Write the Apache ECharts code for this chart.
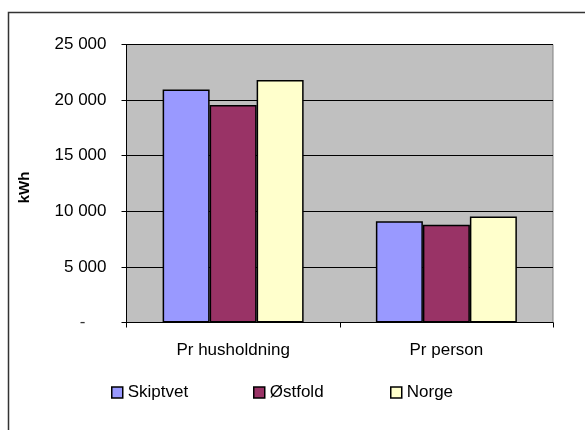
<!DOCTYPE html>
<html>
<head>
<meta charset="utf-8">
<script src="https://cdn.jsdelivr.net/npm/echarts@6/dist/echarts.min.js"></script>
<style>
  html, body { margin: 0; padding: 0; background: #fff; }
  #chart { width: 585px; height: 430px; }
</style>
</head>
<body>
<div id="chart"></div>
<script>
// Strømforbruk i kWh
const categories = ['Pr husholdning', 'Pr person'];
const skiptvet = [20950, 9100];
const ostfold = [19570, 8800];
const norge = [21800, 9540];
const yTicks = [0, 5000, 10000, 15000, 20000, 25000];

const FONT = '"Liberation Sans", Arial, sans-serif';

function fmt(v) {
  if (v === 0) return '{z|-}';
  return String(v).replace(/\B(?=(\d{3})+(?!\d))/g, ' ');
}

const chart = echarts.init(document.getElementById('chart'));

function legendFor(name, left) {
  return {
    data: [name],
    left: left,
    top: 379,
    itemWidth: 11,
    itemHeight: 11,
    itemGap: 0,
    icon: 'rect',
    textStyle: { fontFamily: FONT, fontSize: 17, color: '#000' },
    itemStyle: { borderColor: '#000', borderWidth: 1.5 }
  };
}

function barSeries(name, data, color) {
  return {
    name: name,
    type: 'bar',
    data: data,
    barWidth: 47,
    barGap: '0%',
    itemStyle: { color: color, borderColor: '#000', borderWidth: 1.5 },
    emphasis: { disabled: true }
  };
}

chart.setOption({
  animation: false,
  backgroundColor: '#fff',
  textStyle: { fontFamily: FONT },
  grid: {
    left: 126.5,
    right: 32,
    top: 44.5,
    bottom: 107.5,
    show: true,
    backgroundColor: '#C0C0C0',
    borderColor: '#808080',
    borderWidth: 1
  },
  legend: [
    legendFor('Skiptvet', 106),
    legendFor('Østfold', 248),
    legendFor('Norge', 385)
  ],
  xAxis: {
    type: 'category',
    data: categories,
    boundaryGap: true,
    axisLine: { show: true, lineStyle: { color: '#000', width: 1 } },
    axisTick: { show: true, inside: false, length: 5, lineStyle: { color: '#000' } },
    axisLabel: { fontFamily: FONT, fontSize: 17, color: '#000', margin: 19 },
    splitLine: { show: false }
  },
  yAxis: {
    type: 'value',
    min: yTicks[0],
    max: yTicks[yTicks.length - 1],
    interval: 5000,
    axisLine: { show: true, lineStyle: { color: '#000', width: 1 } },
    axisTick: { show: true, inside: false, length: 5, lineStyle: { color: '#000' } },
    axisLabel: {
      fontFamily: FONT,
      fontSize: 17,
      color: '#000',
      margin: 20,
      formatter: fmt,
      rich: { z: { fontFamily: FONT, fontSize: 17, color: '#333', padding: [0, 21, 0, 0] } }
    },
    splitLine: { show: true, lineStyle: { color: '#000', width: 1 } }
  },
  graphic: [
    {
      type: 'rect',
      shape: { x: 8.5, y: 12.5, width: 700, height: 600 },
      style: { fill: 'none', stroke: '#333', lineWidth: 1.5 },
      silent: true
    },
    {
      type: 'text',
      x: 25,
      y: 187.5,
      rotation: Math.PI / 2,
      style: {
        text: 'kWh',
        fontFamily: FONT,
        fontSize: 15,
        fontWeight: 'bold',
        fill: '#000',
        align: 'center',
        verticalAlign: 'middle'
      },
      silent: true
    }
  ],
  series: [
    barSeries('Skiptvet', skiptvet, '#9999FF'),
    barSeries('Østfold', ostfold, '#993366'),
    barSeries('Norge', norge, '#FFFFCC')
  ]
});
</script>
</body>
</html>
